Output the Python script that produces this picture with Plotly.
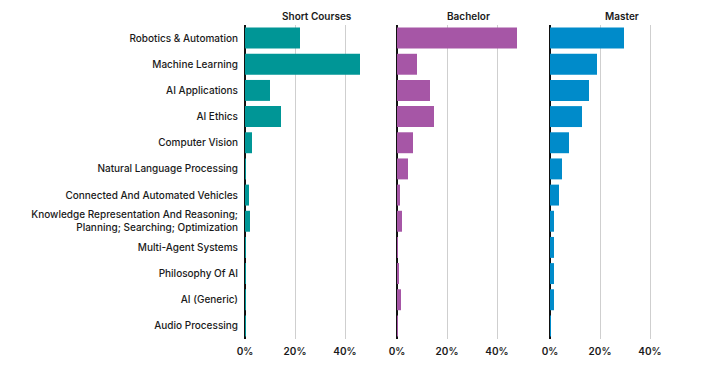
import plotly.graph_objects as go

categories = [
    "Robotics & Automation",
    "Machine Learning",
    "AI Applications",
    "AI Ethics",
    "Computer Vision",
    "Natural Language Processing",
    "Connected And Automated Vehicles",
    "Knowledge Representation And Reasoning;<br>Planning; Searching; Optimization",
    "Multi-Agent Systems",
    "Philosophy Of AI",
    "AI (Generic)",
    "Audio Processing",
]
short_courses = [22, 46, 10, 14.4, 2.8, 0.3, 1.6, 2.0, 0.3, 0.1, 0.3, 0.1]
bachelor = [48, 8, 13.2, 14.8, 6.4, 4.4, 1.2, 2.0, 0.4, 0.8, 1.6, 0.1]
master = [29.6, 18.8, 15.6, 12.8, 7.6, 4.8, 3.6, 1.6, 1.6, 1.6, 1.6, 0.4]

panels = ["Short Courses", "Bachelor", "Master"]
series = [short_courses, bachelor, master]
colors = ["#009696", "#a656a6", "#008bca"]
tick_vals = [0, 20, 40]
tick_text = ["0%", "20%", "40%"]

# page body has an 8px default margin; compensate
OFF = 8
W, H = 717, 371
x_starts = [245 - OFF, 397 - OFF, 550 - OFF]
panel_w = 146
y_top, y_bot = 25 - OFF, 339 - OFF

FONT = "Inter"
fig = go.Figure()
layout = dict(
    width=W, height=H,
    margin=dict(l=0, r=0, t=0, b=0, autoexpand=False),
    paper_bgcolor="white", plot_bgcolor="white",
    showlegend=False, bargap=0.2,
    font=dict(family=FONT, size=10, color="#1a1a1a", weight=500),
    annotations=[],
)
for i, (name, vals, col) in enumerate(zip(panels, series, colors)):
    sfx = "" if i == 0 else str(i + 1)
    fig.add_trace(go.Bar(
        x=vals, y=categories, orientation="h",
        marker=dict(color=col, line=dict(width=0)),
        xaxis="x" + sfx, yaxis="y" + sfx,
    ))
    x0 = x_starts[i] / W
    x1 = (x_starts[i] + panel_w) / W
    layout["xaxis" + sfx] = dict(
        domain=[x0, x1], range=[0, 58.4], anchor="y" + sfx,
        tickvals=tick_vals, ticktext=tick_text, automargin=False,
        showgrid=True, gridcolor="#cfcfcf", gridwidth=1,
        zeroline=True, zerolinecolor="#111111", zerolinewidth=2,
        showline=False, ticks="", fixedrange=True, ticklabelstandoff=5,
        tickfont=dict(family=FONT, size=10, color="#1a1a1a", weight=600),
    )
    layout["yaxis" + sfx] = dict(
        domain=[1 - y_bot / H, 1 - y_top / H], anchor="x" + sfx,
        categoryorder="array", categoryarray=categories, automargin=False,
        autorange="reversed", showgrid=False, zeroline=False,
        showticklabels=(i == 0), ticks="", ticklabelstandoff=6,
        tickfont=dict(family=FONT, size=10, color="#1a1a1a", weight=500),
    )
    layout["annotations"].append(dict(
        text=name, x=(x_starts[i] + panel_w / 2 - 1) / W, y=1 - (16 - OFF) / H,
        xref="paper", yref="paper", showarrow=False,
        xanchor="center", yanchor="middle",
        font=dict(family=FONT, size=10, color="#1a1a1a", weight=600),
    ))

fig.update_layout(**layout)
fig.write_html("out.html")
